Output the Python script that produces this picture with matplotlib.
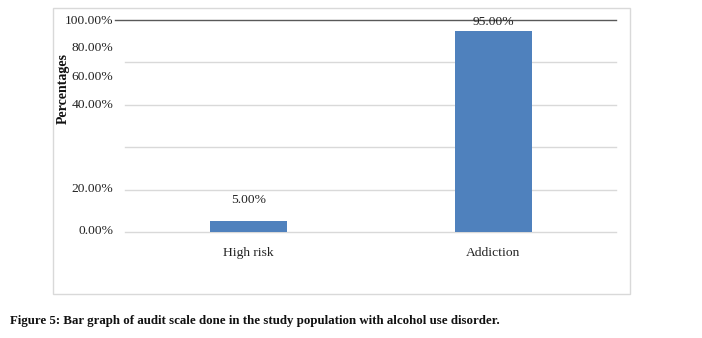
import matplotlib
matplotlib.use("Agg")
import matplotlib.pyplot as plt
from matplotlib.patches import Rectangle

categories = ["High risk", "Addiction"]
values = [5.0, 95.0]
value_labels = ["5.00%", "95.00%"]
grid_values = [0, 20, 40, 60, 80, 100]
tick_labels = ["0.00%", "20.00%", "40.00%", "60.00%", "80.00%", "100.00%"]
# positions where the original (misaligned) tick labels appear
tick_label_pos = [1.0, 20.8, 60.8, 74.0, 87.3, 100.0]

W, H = 702, 338
fig = plt.figure(figsize=(W / 100, H / 100), dpi=100)
serif = ["Liberation Serif", "DejaVu Serif"]

# outer frame
fig.patches.append(Rectangle((53 / W, 1 - 294 / H), (630 - 53) / W, (294 - 8) / H,
                             transform=fig.transFigure, fill=False,
                             edgecolor="#d9d9d9", linewidth=1.0))

ax = fig.add_axes([125 / W, 1 - 232 / H, 491 / W, 212 / H])
x = list(range(len(categories)))
ax.bar(x, values, width=0.314, color="#4f81bd", zorder=3)
ax.set_xlim(-0.504, 1.5)
ax.set_ylim(0, 100)

for s in ax.spines.values():
    s.set_visible(False)

# gridlines
for g in grid_values:
    if g == 100:
        continue
    ax.axhline(g, color="#d9d9d9", linewidth=1.0, zorder=1, clip_on=False)
ax.plot([-0.545, 1.5], [100, 100], color="#595959", linewidth=1.0,
        clip_on=False, zorder=2)

ax.set_yticks(tick_label_pos)
ax.set_yticklabels(tick_labels, family=serif, fontsize=9.7, color="#222222")
ax.tick_params(axis="y", length=0, pad=8.5)
ax.set_xticks(x)
ax.set_xticklabels(categories, family=serif, fontsize=9.7, color="#222222")
ax.tick_params(axis="x", length=0, pad=11)

for xi, v, lab in zip(x, values, value_labels):
    ax.annotate(lab, (xi, v), xytext=(0, 11 if v < 50 else 2), textcoords="offset points",
                ha="center", va="bottom", family=serif, fontsize=9.7, color="#222222",
                annotation_clip=False)

fig.text(63 / W, 1 - 88 / H, "Percentages", rotation=90, ha="center", va="center",
         family=serif, fontsize=10, fontweight="bold", color="#111111")

fig.text(10 / W, 1 - 321 / H,
         "Figure 5: Bar graph of audit scale done in the study population with alcohol use disorder.",
         ha="left", va="center", family=["Liberation Serif", "DejaVu Serif"],
         fontsize=9.3, fontweight="bold", color="#111111")

fig.savefig("out.png", dpi=100)
